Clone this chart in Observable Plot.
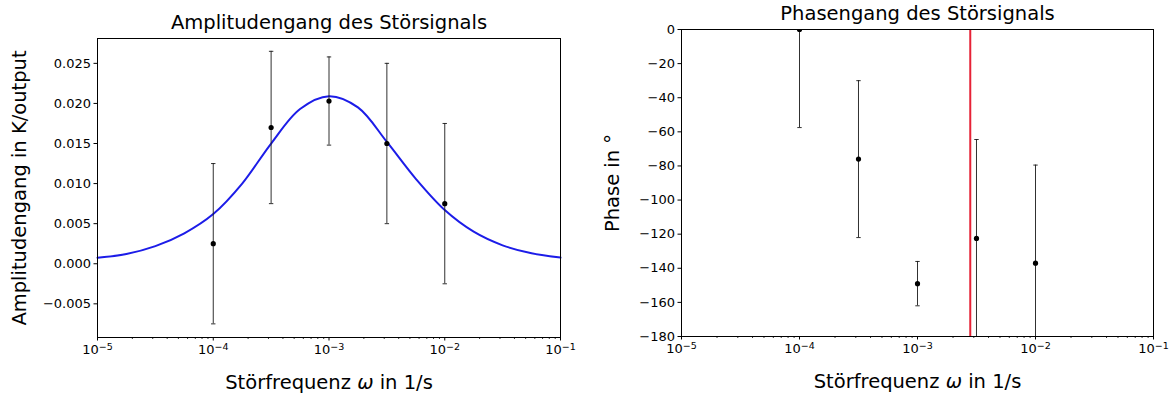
<!DOCTYPE html>
<html><head><meta charset="utf-8">
<script src="https://cdn.jsdelivr.net/npm/d3@7"></script>
<script src="https://cdn.jsdelivr.net/npm/@observablehq/plot@0.6"></script>
<style>
body{margin:0;background:#fff;}
#wrap{display:flex;width:1173px;height:398px;background:#fff;}
#wrap svg{display:block;flex:none;}
</style></head><body><div id="wrap"></div>
<script>
// measured data
const freqs = [1e-4, 3.162e-4, 1e-3, 3.162e-3, 1e-2];
const ampValues = [0.0025, 0.0170, 0.0203, 0.0150, 0.0075];
const ampErrors = [0.0100, 0.0095, 0.0055, 0.0100, 0.0100];
const phaseValues = [0, -76, -149, -122.5, -137];
const phaseErrors = [57.5, 46, 13, 58, 57.5];
// fitted amplitude curve
const fitOmega = [1e-5, 1.778e-5, 3.162e-5, 5.623e-5, 1e-4, 1.778e-4, 3.162e-4, 5.623e-4, 1e-3, 1.778e-3, 3.162e-3, 5.623e-3, 1e-2, 1.778e-2, 3.162e-2, 5.623e-2, 1e-1];
const fitAmp = [0.00075, 0.00122, 0.0022, 0.0038, 0.0062, 0.0100, 0.0150, 0.0193, 0.0209, 0.0195, 0.0152, 0.0106, 0.0067, 0.0040, 0.0023, 0.0013, 0.00077];
const markerOmega = [2.8e-3];
// ticks
const decadeTicks = [1e-5, 1e-4, 1e-3, 1e-2, 1e-1];
const decadeExponents = ["−5", "−4", "−3", "−2", "−1"];
const minorMultipliers = [2, 3, 4, 5, 6, 7, 8, 9];
const ampTicks = [-0.005, 0, 0.005, 0.010, 0.015, 0.020, 0.025];
const phaseTicks = [0, -20, -40, -60, -80, -100, -120, -140, -160, -180];
const titles = ["Amplitudengang des Störsignals", "Phasengang des Störsignals"];
const xLabel = "Störfrequenz ω in 1/s";
const yLabels = ["Amplitudengang in K/output", "Phase in °"];

const minorTicks = decadeTicks.slice(0, -1).flatMap(d => minorMultipliers.map(m => d * m));
const capSymbol = {draw(ctx, size) { const r = Math.sqrt(size / Math.PI); ctx.moveTo(-r, 0); ctx.lineTo(r, 0); }};
const font = "DejaVu Sans";

function panel({width, ml, mr, mt, mb, values, errors, yDomain, yTicks, yFormat, title, yLabel, ylDx, extra}) {
  const rows = freqs.map((f, i) => ({f, v: values[i], e: errors[i]}));
  const caps = rows.flatMap(d => [{f: d.f, y: d.v - d.e}, {f: d.f, y: d.v + d.e}]);
  return Plot.plot({
    width, height: 398,
    marginLeft: ml, marginRight: mr, marginTop: mt, marginBottom: mb,
    style: {fontFamily: font, background: "#fff", color: "#000", overflow: "visible"},
    x: {type: "log", domain: [1e-5, 1e-1]},
    y: {domain: yDomain},
    marks: [
      ...extra,
      Plot.ruleX(rows, {x: "f", y1: d => d.v - d.e, y2: d => d.v + d.e, stroke: "#1a1a1a", strokeWidth: 0.9, clip: true}),
      Plot.dot(caps, {x: "f", y: "y", symbol: capSymbol, r: 2.2, fill: "none", stroke: "#1a1a1a", strokeWidth: 0.9, clip: true}),
      Plot.dot(rows, {x: "f", y: "v", r: 2.6, fill: "#000", stroke: "none", clip: true}),
      Plot.frame({stroke: "#000", strokeWidth: 1}),
      Plot.axisX({ticks: minorTicks, tickSize: 2, tickFormat: () => "", label: null, strokeWidth: 0.8}),
      Plot.axisX({ticks: decadeTicks, tickSize: 3.5, tickPadding: 4, tickFormat: d => "10" + decadeExponents[decadeTicks.indexOf(d)], label: null, fontSize: 13, className: "decade-axis"}),
      Plot.axisY({ticks: yTicks, tickSize: 3.5, tickPadding: 3, tickFormat: yFormat, label: null, fontSize: 13}),
      Plot.text([title], {text: d => d, frameAnchor: "top", dy: -16, lineAnchor: "middle", textAnchor: "middle", fontSize: 19.5}),
      Plot.text([xLabel], {text: d => d, frameAnchor: "bottom", dy: 45, lineAnchor: "middle", textAnchor: "middle", fontSize: 19.5}),
      Plot.text([yLabel], {text: d => d, frameAnchor: "left", dx: ylDx, rotate: -90, lineAnchor: "middle", textAnchor: "middle", fontSize: 19.5})
    ]
  });
}

const left = panel({
  width: 590, ml: 97, mr: 30, mt: 38, mb: 61,
  values: ampValues, errors: ampErrors,
  yDomain: [-0.0092, 0.0281], yTicks: ampTicks, yFormat: d3.format(".3f"),
  title: titles[0], yLabel: yLabels[0], ylDx: -78,
  extra: [Plot.line(fitOmega.map((f, i) => ({f, a: fitAmp[i]})), {x: "f", y: "a", stroke: "#1c1ce8", strokeWidth: 2, curve: "catmull-rom"})]
});
const right = panel({
  width: 583, ml: 91, mr: 20, mt: 29, mb: 62,
  values: phaseValues, errors: phaseErrors,
  yDomain: [-180, 0], yTicks: phaseTicks, yFormat: d3.format("d"),
  title: titles[1], yLabel: yLabels[1], ylDx: -69,
  extra: [Plot.ruleX(markerOmega, {x: d => d, stroke: "#e62236", strokeWidth: 2})]
});
document.getElementById("wrap").append(left, right);

// math-text styling: italic omega and raised exponents
d3.selectAll("#wrap svg text").each(function() {
  const t = d3.select(this);
  const s = t.text();
  if (this.querySelector("tspan")) return;
  if (s.includes("ω")) {
    const [a, b] = s.split("ω");
    t.text(null);
    t.append("tspan").text(a);
    t.append("tspan").attr("font-style", "italic").text("ω");
    t.append("tspan").text(b);
  } else if (/^10−\d$/.test(s)) {
    t.text(null);
    t.append("tspan").text("10");
    t.append("tspan").attr("font-size", "9.5px").attr("dy", "-0.45em").text(s.slice(2));
  }
});
</script></body></html>
